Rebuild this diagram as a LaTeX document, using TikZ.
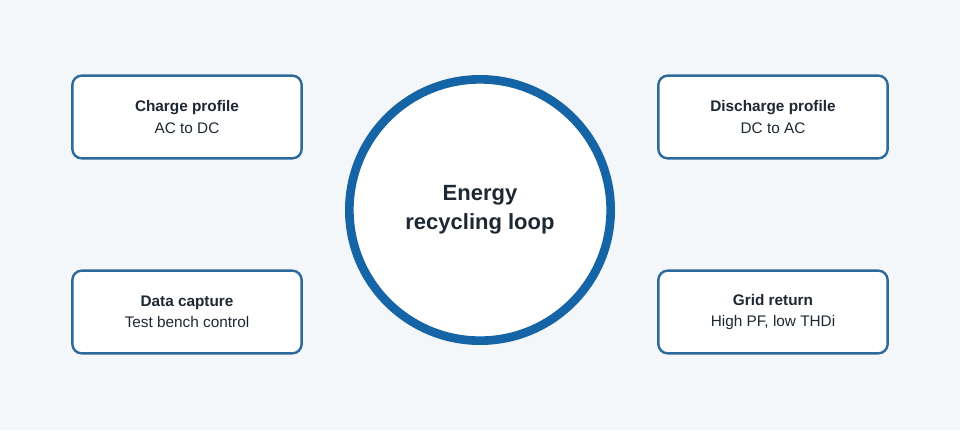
\documentclass[tikz,border=0pt]{standalone}
\usepackage{fontspec}
\setmainfont{Liberation Sans}
\definecolor{bgpage}{HTML}{F4F7FA}
\definecolor{loopblue}{HTML}{1565A6}
\definecolor{boxline}{HTML}{2D6A9B}
\definecolor{inktext}{HTML}{1E2833}
\tikzset{
  stagebox/.style={draw=boxline,line width=1.8pt,rounded corners=7pt,fill=white,
    minimum width=172pt,minimum height=62pt,align=center,text=inktext,font=\fontsize{11.5pt}{16pt}\selectfont},
  loopring/.style={circle,draw=loopblue,line width=6.5pt,fill=white,minimum size=196pt,
    align=center,text=inktext,font=\bfseries\fontsize{16.5pt}{22pt}\selectfont}
}
\begin{document}
\begin{tikzpicture}[x=0.75pt,y=-0.75pt]
  \fill[bgpage] (0,0) rectangle (960,430);
  \useasboundingbox (0,0) rectangle (960,430);
  \node[loopring] (loop) at (480,210) {Energy\\recycling loop};
  \node[stagebox] (charge) at (187,117) {\textbf{Charge profile}\\AC to DC};
  \node[stagebox] (discharge) at (773,117) {\textbf{Discharge profile}\\DC to AC};
  \node[stagebox] (capture) at (187,312) {\textbf{Data capture}\\Test bench control};
  \node[stagebox] (grid) at (773,312) {\textbf{Grid return}\\High PF, low THDi};
\end{tikzpicture}
\end{document}
